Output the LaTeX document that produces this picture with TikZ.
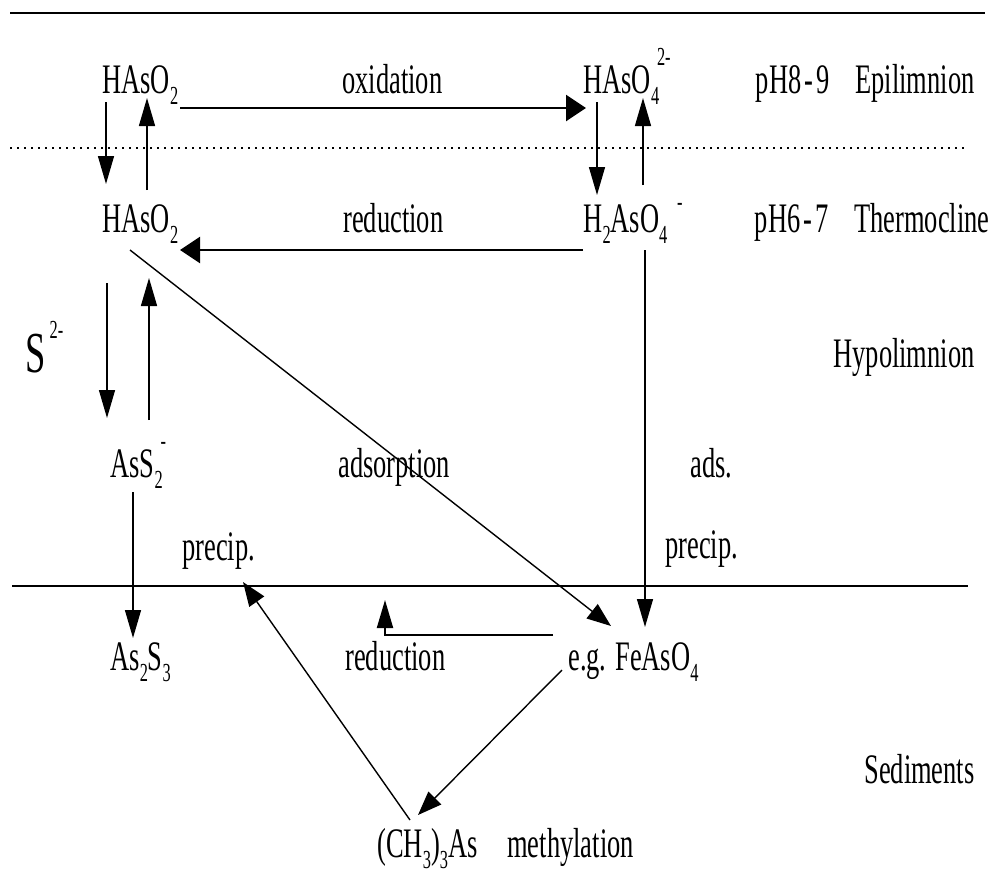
\documentclass[tikz,border=0pt]{standalone}
\usepackage{fontspec}
\setmainfont[FakeStretch=0.63]{Liberation Serif}
\usetikzlibrary{arrows.meta}
\newcommand\lo[1]{\raisebox{-5.5pt}{\fontsize{13}{13}\selectfont #1}}
\newcommand\hi[2]{\raisebox{#1}{\fontsize{13}{13}\selectfont #2}}
\begin{document}
\begin{tikzpicture}[x=0.5pt,y=-0.5pt,
  lbl/.style={anchor=base west, inner sep=0pt, font=\fontsize{21}{24}\selectfont},
  rlbl/.style={lbl, anchor=base east},
  arr/.style={-{Triangle[length=14pt,width=8pt]}, line width=0.7pt},
  darr/.style={-{Triangle[length=12pt,width=9pt]}, line width=0.7pt},
  harr/.style={-{Triangle[length=10pt,width=13pt]}, line width=1.3pt},
  rule/.style={line width=1pt}]
\useasboundingbox (0,0) rectangle (998,875);
% layer boundaries
\draw[rule, line width=1.4pt] (10,13) -- (985,13);
\draw[line width=1.2pt, dash pattern=on 1.2pt off 2.3pt] (10,148) -- (965,148);
\draw[rule] (12,586) -- (968,586);
% labels
\node[lbl] (haso2a) at (102,93) {HAsO\lo{2}};
\node[lbl] (oxid) at (342,93) {oxidation};
\node[lbl] (haso4) at (583,93) {HAsO\rlap{\lo{4}}\hspace{3pt}\hi{14pt}{2-}};
\node[rlbl] (epi) at (975,93) {pH8\kern1.5pt-\kern1.5pt9\hspace{13pt}Epilimnion};
\node[lbl] (haso2b) at (102,232) {HAsO\lo{2}};
\node[lbl] (red1) at (343,232) {reduction};
\node[lbl] (h2aso4) at (583,232) {H\lo{2}AsO\rlap{\lo{4}}\hspace{9pt}\hi{11pt}{-}};
\node[rlbl] (thermo) at (990,232) {pH6\kern1.5pt-\kern1.5pt7\hspace{13pt}Thermocline};
\node[lbl] (s2) at (25,372) {{\fontsize{29}{30}\selectfont S}\hspace{2pt}\hi{17pt}{2-}};
\node[rlbl] (hypo) at (975,367) {Hypolimnion};
\node[lbl] (ass2) at (110,477) {AsS\rlap{\lo{2}}\hspace{3pt}\hi{14pt}{-}};
\node[lbl] (adsorp) at (338,477) {adsorption};
\node[lbl] (ads) at (690,477) {ads.};
\node[lbl] (precl) at (182,560) {precip.};
\node[lbl] (precr) at (665,558) {precip.};
\node[lbl] (as2s3) at (110,670) {As\lo{2}S\lo{3}};
\node[lbl] (red2) at (345,670) {reduction};
\node[lbl] (feaso4) at (568,670) {e.g. FeAsO\lo{4}};
\node[rlbl] (sed) at (975,783) {Sediments};
\node[lbl] (ch3as) at (377,857) {(CH\lo{3})\lo{3}As};
\node[lbl] (methyl) at (507,857) {methylation};
% connector end points
\coordinate (oxS) at (180,108); \coordinate (oxE) at (586,108);
\coordinate (l1a) at (106,102); \coordinate (l1b) at (106,184);
\coordinate (l2a) at (147,190); \coordinate (l2b) at (147,98);
\coordinate (r1a) at (597,102); \coordinate (r1b) at (597,195);
\coordinate (r2a) at (643,185); \coordinate (r2b) at (643,98);
\coordinate (rdS) at (583,250); \coordinate (rdE) at (180,250);
\coordinate (dgS) at (130,250); \coordinate (dgE) at (611,626);
\coordinate (rvS) at (645,250); \coordinate (rvE) at (645,627);
\coordinate (s1a) at (107,283); \coordinate (s1b) at (107,418);
\coordinate (s2a) at (149,420); \coordinate (s2b) at (149,278);
\coordinate (asA) at (133,492); \coordinate (asB) at (133,638);
\coordinate (mpS) at (410,820); \coordinate (mpE) at (243,582);
\coordinate (fmS) at (562,670); \coordinate (fmE) at (418,815);
\coordinate (rsS) at (553,635); \coordinate (rsE) at (385,600);
% connectors
\draw[harr] (oxS) -- (oxE);
\draw[arr] (l1a) -- (l1b);
\draw[arr] (l2a) -- (l2b);
\draw[arr] (r1a) -- (r1b);
\draw[arr] (r2a) -- (r2b);
\draw[harr, line width=1.1pt] (rdS) -- (rdE);
\draw[darr] (dgS) -- (dgE);
\draw[arr] (rvS) -- (rvE);
\draw[arr] (s1a) -- (s1b);
\draw[arr] (s2a) -- (s2b);
\draw[arr] (asA) -- (asB);
\draw[darr] (mpS) -- (mpE);
\draw[darr] (fmS) -- (fmE);
\draw[arr, line width=1pt] (rsS) -| (rsE);
\end{tikzpicture}
\end{document}
